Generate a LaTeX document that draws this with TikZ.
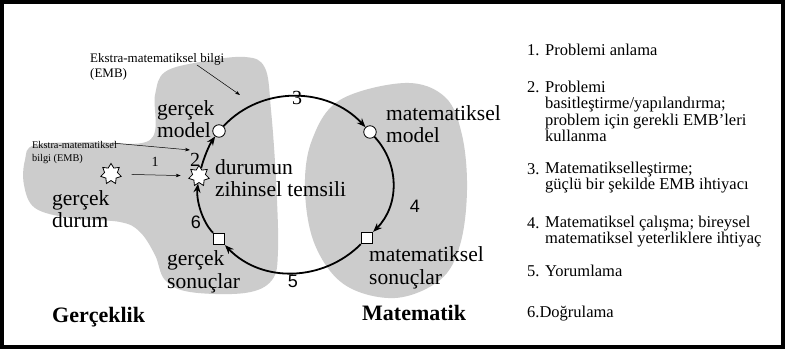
\documentclass[tikz,border=0pt]{standalone}
\usepackage{fontspec}
\setmainfont{Liberation Serif}
\newfontfamily\arialf{Liberation Sans}
\usetikzlibrary{shapes.geometric,arrows.meta}
\definecolor{blobgray}{RGB}{204,204,204}
\begin{document}
\begin{tikzpicture}[x=1pt,y=1pt,
  big/.style={font=\fontsize{21.5}{22.5}\selectfont, align=left, anchor=west, inner sep=0},
  lbl/.style={font=\fontsize{22}{24}\selectfont\bfseries, anchor=west, inner sep=0},
  embtop/.style={font=\fontsize{13}{14.5}\selectfont, align=left, anchor=west, inner sep=0},
  embleft/.style={font=\fontsize{10.3}{13}\selectfont, align=left, anchor=west, inner sep=0},
  numserif/.style={font=\fontsize{20}{22}\selectfont, inner sep=0},
  numsmall/.style={font=\fontsize{14}{16}\selectfont, inner sep=0},
  numsans/.style={font=\fontsize{18}{20}\selectfont\arialf, inner sep=0},
  lst/.style={font=\fontsize{16.5}{16.5}\selectfont, align=left, anchor=west, inner sep=0},
  cyc/.style={line width=1.8pt, -{Stealth[length=9pt,width=7pt]}},
  thin/.style={line width=0.5pt, -{Stealth[length=5pt,width=3.5pt]}},
  dotnode/.style={circle, draw, fill=white, minimum size=12.5pt, inner sep=0, line width=0.8pt},
  sqnode/.style={rectangle, draw, fill=white, minimum size=11.5pt, inner sep=0, line width=0.8pt},
  starnode/.style={star, star points=7, star point ratio=1.6, draw, fill=white, minimum size=21pt, inner sep=0, line width=0.8pt}
]
\useasboundingbox (0,0) rectangle (785,352);
\fill[white] (0,0) rectangle (785,352);
\draw[line width=3.5pt] (2,5) rectangle (783,350);

% grey regions
\fill[blobgray] plot[smooth cycle, tension=0.6] coordinates {
 (25,192) (35,207) (90,210) (150,212) (155,257) (165,280) (200,290) (245,295)
 (265,284) (271,242) (276,172) (278,102) (272,72) (245,59) (190,60) (165,72)
 (155,97) (140,120) (120,130) (70,134) (35,144) (24,167)};
\fill[blobgray] plot[smooth cycle, tension=0.6] coordinates {
 (405,269) (445,255) (462,217) (467,162) (460,107) (440,72) (395,54) (345,67)
 (315,107) (305,162) (312,212) (340,252)};

% nodes of the cycle
\node[dotnode] (gm) at (219,221) {};
\node[dotnode] (mm) at (370,220) {};
\node[sqnode] (ms) at (367,114) {};
\node[sqnode] (gs) at (219,113) {};
\node[starnode] (ds) at (199,176) {};
\node[starnode] (gd) at (111,178) {};

% cycle arcs
\draw[cyc] (gm) to[out=47,in=133] (mm);
\draw[cyc] (mm) to[out=-47,in=45] (ms);
\draw[cyc] (ms) to[out=-135,in=-46] (gs);
\draw[cyc] (gs) to[out=134,in=-97,looseness=0.8] (ds);
\draw[cyc] (ds) to[out=75,in=235,looseness=0.8] (gm);

% labels
\node[big] (tgm) at (157,233) {gerçek\\model};
\node[big] (tds) at (215,174) {durumun\\zihinsel temsili};
\node[big] (tgd) at (52,143) {gerçek\\durum};
\node[big] (tgs) at (167,80) {gerçek\\sonuçlar};
\node[big] (tmm) at (386,228) {matematiksel\\model};
\node[big] (tms) at (369,84) {matematiksel\\sonuçlar};
\node[lbl] (tger) at (52,35) {Gerçeklik};
\node[lbl] (tmat) at (362,39) {Matematik};

% extra-mathematical knowledge
\node[embtop] (emb1) at (90,285) {Ekstra-matematiksel bilgi\\(EMB)};
\node[embleft] (emb2) at (32,199.5) {Ekstra-matematiksel\\bilgi (EMB)};
\coordinate (emb1s) at (197,287);
\coordinate (emb1e) at (240,257);
\coordinate (emb2s) at (112,209);
\coordinate (emb2e) at (190,202);
\draw[thin] (emb1s) -- (emb1e);
\draw[thin] (emb2s) -- (emb2e);
\draw[thin, shorten <=12pt, shorten >=10pt] (gd) -- (ds);

% step numbers
\node[numsmall] (n1) at (155,190) {1};
\node[numserif] (n2) at (195,192) {2};
\node[numserif] (n3) at (297,254) {3};
\node[numsans] (n4) at (415,146) {4};
\node[numsans] (n5) at (293,71) {5};
\node[numsans] (n6) at (196,130) {6};

% list
\node[lst] (l1n) at (527,302) {1.};
\node[lst] (l1) at (545,302) {Problemi anlama};
\node[lst] (l2n) at (527,265) {2.};
\node[lst] (l2) at (545,240.5) {Problemi\\basitleştirme/yapılandırma;\\problem için gerekli EMB'leri\\kullanma};
\node[lst] (l3n) at (527,183) {3.};
\node[lst] (l3) at (545,174.5) {Matematikselleştirme;\\güçlü bir şekilde EMB ihtiyacı};
\node[lst] (l4n) at (527,129) {4.};
\node[lst] (l4) at (545,120.5) {Matematiksel çalışma; bireysel\\matematiksel yeterliklere ihtiyaç};
\node[lst] (l5n) at (527,81) {5.};
\node[lst] (l5) at (545,81) {Yorumlama};
\node[lst] (l6) at (527,38) {6.Doğrulama};
\end{tikzpicture}
\end{document}
